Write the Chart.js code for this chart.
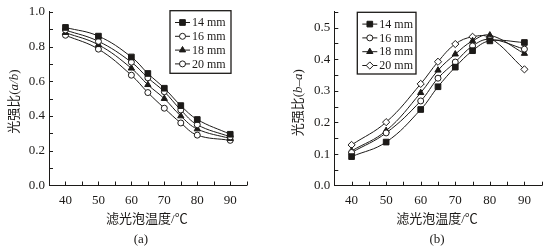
<!DOCTYPE html>
<html>
<head>
<meta charset="utf-8">
<script src="https://cdn.jsdelivr.net/npm/chart.js@4/dist/chart.umd.min.js"></script>
<style>
  html, body { margin: 0; padding: 0; background: #fff; }
  #wrap { position: relative; width: 547px; height: 252px; overflow: hidden; }
  canvas { position: absolute; top: 0; }
  #chartA { left: 0; }
  #chartB { left: 270px; }
</style>
</head>
<body>
<div id="wrap">
  <canvas id="chartA" width="270" height="252"></canvas>
  <canvas id="chartB" width="277" height="252"></canvas>
</div>
<script>
/********************
 * data
 ********************/
const temps = [40, 50, 60, 65, 70, 75, 80, 90];
const seriesNames = ["14 mm", "16 mm", "18 mm", "20 mm"];

// (a) light ratio a/b
const ratioA14 = [0.91, 0.86, 0.74, 0.645, 0.56, 0.46, 0.38, 0.295];
const ratioA16 = [0.895, 0.83, 0.71, 0.62, 0.54, 0.435, 0.35, 0.28];
const ratioA18 = [0.88, 0.81, 0.675, 0.58, 0.50, 0.40, 0.325, 0.27];
const ratioA20 = [0.865, 0.785, 0.635, 0.535, 0.445, 0.36, 0.29, 0.26];

// (b) light ratio b-a
const ratioB14 = [0.092, 0.138, 0.241, 0.313, 0.375, 0.427, 0.458, 0.453];
const ratioB16 = [0.105, 0.167, 0.268, 0.340, 0.391, 0.442, 0.463, 0.432];
const ratioB18 = [0.110, 0.174, 0.294, 0.365, 0.416, 0.458, 0.476, 0.418];
const ratioB20 = [0.129, 0.201, 0.322, 0.392, 0.448, 0.471, 0.468, 0.368];

// axis ticks
const xLabelTicks = [40, 50, 60, 70, 80, 90];
const xMarkTicks = [40, 45, 50, 55, 60, 65, 70, 75, 80, 85, 90, 95];
const yLabelTicksA = [0, 0.2, 0.4, 0.6, 0.8, 1.0];
const yMarkTicksA = [0.1, 0.2, 0.3, 0.4, 0.5, 0.6, 0.7, 0.8, 0.9, 1.0];
const yLabelTicksB = [0, 0.1, 0.2, 0.3, 0.4, 0.5];
const yMarkTicksB = [0.05, 0.1, 0.15, 0.2, 0.25, 0.3, 0.35, 0.4, 0.45, 0.5, 0.55];

/********************
 * look
 ********************/
const INK = "#1c1a18";
const SERIF = '"Liberation Serif", "Noto Sans CJK SC", serif';
const FONT = "13px " + SERIF;
const ITALIC = "italic 13px " + SERIF;

// marker styles per series: [pointStyle, filled, radius]
const markersA = [["rect", true, 4], ["circle", false, 3], ["triangle", true, 3.6], ["circle", false, 3]];
const markersB = [["rect", true, 4], ["circle", false, 3], ["triangle", true, 3.6], ["rectRot", false, 3.6]];

function makeDatasets(valuesList, markers){
  return valuesList.map((vals, i) => ({
    label: seriesNames[i],
    data: temps.map((t, k) => ({ x: t, y: vals[k] })),
    borderColor: INK,
    borderWidth: 1,
    tension: 0.4,
    pointStyle: markers[i][0],
    pointRadius: markers[i][2],
    pointHoverRadius: markers[i][2],
    pointBackgroundColor: markers[i][1] ? INK : "#fff",
    pointBorderColor: INK,
    pointBorderWidth: 1
  }));
}

function drawMarker(ctx, style, filled, r, x, y){
  ctx.save();
  ctx.beginPath();
  if(style === "rect"){
    const s = r * Math.SQRT1_2;
    ctx.rect(x - s, y - s, 2 * s, 2 * s);
  } else if(style === "triangle"){
    ctx.moveTo(x, y - r);
    ctx.lineTo(x + r * 0.866, y + r * 0.5);
    ctx.lineTo(x - r * 0.866, y + r * 0.5);
    ctx.closePath();
  } else if(style === "rectRot"){
    ctx.moveTo(x, y - r);
    ctx.lineTo(x + r, y);
    ctx.lineTo(x, y + r);
    ctx.lineTo(x - r, y);
    ctx.closePath();
  } else {
    ctx.arc(x, y, r, 0, Math.PI * 2);
  }
  ctx.fillStyle = filled ? INK : "#fff";
  ctx.fill();
  ctx.strokeStyle = INK;
  ctx.lineWidth = 1;
  ctx.stroke();
  ctx.restore();
}

/********************
 * plugin: inward ticks, titles, boxed legend
 ********************/
const paperPlugin = {
  id: "paper",
  afterDraw(chart, args, opts){
    const ctx = chart.ctx;
    const area = chart.chartArea;
    const xs = chart.scales.x;
    const ys = chart.scales.y;

    // inward tick marks
    ctx.save();
    ctx.strokeStyle = INK;
    ctx.lineWidth = 1;
    ctx.beginPath();
    opts.xMarks.forEach(v => {
      const px = Math.round(xs.getPixelForValue(v)) + 0.5;
      ctx.moveTo(px, area.bottom);
      ctx.lineTo(px, area.bottom - 4);
    });
    opts.yMarks.forEach(v => {
      const py = Math.round(ys.getPixelForValue(v)) + 0.5;
      ctx.moveTo(area.left, py);
      ctx.lineTo(area.left + 4, py);
    });
    ctx.stroke();
    ctx.restore();

    // y title (rotated, mixed italic)
    ctx.save();
    ctx.fillStyle = INK;
    ctx.textBaseline = "middle";
    ctx.textAlign = "left";
    const parts = opts.yTitle;
    let total = 0;
    parts.forEach(p => { ctx.font = p[1] ? ITALIC : FONT; total += ctx.measureText(p[0]).width; });
    ctx.translate(area.left - opts.yTitleGap, (area.top + area.bottom) / 2 + opts.yTitleShift);
    ctx.rotate(-Math.PI / 2);
    let cx = -total / 2;
    parts.forEach(p => {
      ctx.font = p[1] ? ITALIC : FONT;
      ctx.fillText(p[0], cx, 0);
      cx += ctx.measureText(p[0]).width;
    });
    ctx.restore();

    // x title + panel tag
    ctx.save();
    ctx.fillStyle = INK;
    ctx.font = FONT;
    ctx.textAlign = "center";
    ctx.textBaseline = "middle";
    const midX = (area.left + area.right) / 2;
    ctx.fillText(opts.xTitle, midX - 1, 220);
    ctx.fillText(opts.tag, midX + opts.tagShift, 240);
    ctx.restore();

    // legend box
    const b = opts.legendBox;
    ctx.save();
    ctx.strokeStyle = INK;
    ctx.lineWidth = 1.3;
    ctx.strokeRect(b.x, b.y, b.w, b.h);
    ctx.font = "12px " + SERIF;
    ctx.fillStyle = INK;
    ctx.textBaseline = "middle";
    ctx.textAlign = "left";
    seriesNames.forEach((name, i) => {
      const ry = b.y + 11.8 + i * 13.8;
      ctx.beginPath();
      ctx.lineWidth = 1;
      ctx.moveTo(b.x + 5, ry);
      ctx.lineTo(b.x + 20, ry);
      ctx.stroke();
      const m = opts.markers[i];
      drawMarker(ctx, m[0], m[1], m[2], b.x + 12.5, ry);
      ctx.fillText(name, b.x + 22, ry + 0.5);
    });
    ctx.restore();
  }
};

function makeChart(canvas, cfg){
  return new Chart(canvas.getContext("2d"), {
    type: "line",
    data: { datasets: cfg.datasets },
    options: {
      responsive: false,
      animation: false,
      layout: { padding: { left: 0, top: cfg.top, right: cfg.right, bottom: 0 } },
      plugins: {
        legend: { display: false },
        tooltip: { enabled: false },
        paper: cfg.paper
      },
      scales: {
        x: {
          type: "linear",
          min: 35,
          max: 95,
          afterBuildTicks: s => { s.ticks = xLabelTicks.map(v => ({ value: v })); },
          afterFit: s => { s.height = 252 - cfg.bottom; },
          grid: { display: false, drawTicks: false },
          border: { display: true, color: INK, width: 1 },
          ticks: { color: INK, font: { family: SERIF, size: 13 }, padding: 7, maxRotation: 0, autoSkip: false }
        },
        y: {
          min: 0,
          max: cfg.yMax,
          afterBuildTicks: s => { s.ticks = cfg.yLabels.map(v => ({ value: v })); },
          afterFit: s => { s.width = cfg.left; },
          grid: { display: false, drawTicks: false },
          border: { display: true, color: INK, width: 1 },
          ticks: { color: INK, font: { family: SERIF, size: 13 }, padding: 4, callback: v => Number(v).toFixed(1) }
        }
      }
    },
    plugins: [paperPlugin]
  });
}

makeChart(document.getElementById("chartA"), {
  datasets: makeDatasets([ratioA14, ratioA16, ratioA18, ratioA20], markersA),
  left: 49, top: 10.7, right: 23.3, bottom: 185.5,
  yMax: 1.0,
  yLabels: yLabelTicksA,
  paper: {
    xMarks: xMarkTicks,
    yMarks: yMarkTicksA,
    yTitle: [["光强比(", false], ["a/b", true], [")", false]],
    yTitleGap: 34, yTitleShift: 3,
    xTitle: "滤光泡温度/℃",
    tag: "(a)", tagShift: -7,
    legendBox: { x: 170, y: 10.7, w: 61, h: 62.6 },
    markers: markersA
  }
});

makeChart(document.getElementById("chartB"), {
  datasets: makeDatasets([ratioB14, ratioB16, ratioB18, ratioB20], markersB),
  left: 64.3, top: 7.3, right: 5.3, bottom: 185.7,
  yMax: 0.55,
  yLabels: yLabelTicksB,
  paper: {
    xMarks: xMarkTicks,
    yMarks: yMarkTicksB,
    yTitle: [["光强比(", false], ["b–a", true], [")", false]],
    yTitleGap: 36, yTitleShift: 4,
    xTitle: "滤光泡温度/℃",
    tag: "(b)", tagShift: -1,
    legendBox: { x: 87.3, y: 12.3, w: 58.7, h: 61.7 },
    markers: markersB
  }
});
</script>
</body>
</html>
